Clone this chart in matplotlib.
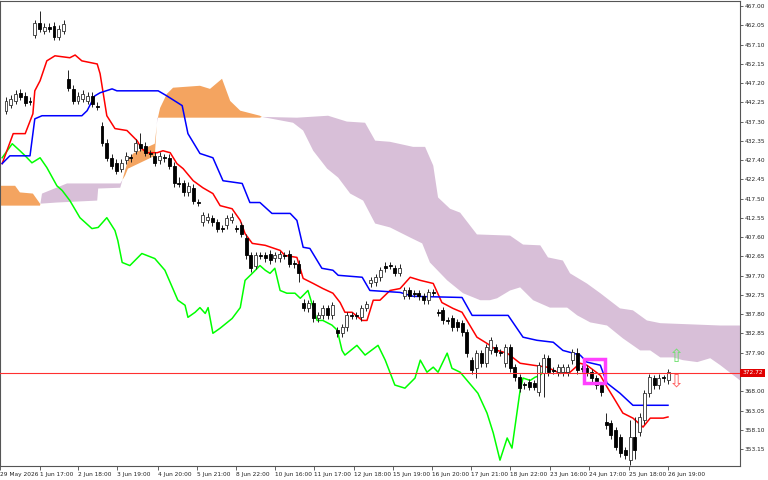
import matplotlib
matplotlib.use("Agg")
import matplotlib.pyplot as plt
import numpy as np

# candles (open, close), bar index 0..138
opens = [440.1, 441.6, 442.6, 444.7, 443.9, 442.6, 459.6, 462.6, 460.6, 461.6,
         461.9, 459.1, 460.6, 448.3, 445.7, 442.6, 443.2, 442.6, 443.9, 441.4,
         436.2, 431.9, 428.0, 426.7, 425.2, 427.3, 428.1, 429.8, 431.6, 431.1,
         429.1, 428.5, 427.3, 428.0, 428.0, 426.0, 421.4, 421.4, 419.1, 420.3,
         416.5, 411.4, 412.1, 412.4, 411.4, 409.8, 410.6, 412.1, 409.8, 410.6,
         407.5, 402.9, 400.3, 402.9, 402.9, 403.4, 402.2, 402.2, 402.9, 403.4,
         400.8, 400.8, 390.8, 389.3, 390.6, 386.7, 387.5, 389.3, 387.5, 383.7,
         382.9, 384.4, 387.5, 387.5, 387.0, 389.5, 395.7, 396.0, 397.3, 400.3,
         400.3, 399.6, 398.5, 392.6, 393.9, 393.2, 393.2, 392.4, 391.4, 393.4,
         388.3, 388.8, 386.2, 386.7, 385.7, 385.5, 383.2, 376.0, 373.9, 377.8,
         375.2, 378.5, 379.3, 378.0, 375.2, 379.3, 374.2, 371.6, 369.6, 370.3,
         370.1, 367.8, 372.6, 376.5, 373.4, 372.9, 372.9, 372.9, 376.0, 377.8,
         373.9, 373.9, 372.9, 371.4, 369.6, 360.1, 359.8, 358.0, 356.2, 352.9,
         350.3, 356.2, 357.5, 360.6, 367.5, 371.4, 369.6, 371.4, 370.8]
closes = [442.6, 443.2, 444.4, 443.7, 442.1, 442.4, 462.6, 461.1, 461.6, 461.1,
          459.1, 461.1, 462.4, 446.0, 442.6, 443.9, 444.4, 443.9, 441.9, 441.1,
          431.9, 428.0, 426.0, 424.7, 426.7, 428.5, 427.9, 431.9, 430.6, 429.3,
          429.0, 426.7, 428.5, 427.9, 426.0, 421.4, 421.3, 419.1, 420.8, 417.0,
          416.4, 413.2, 412.9, 411.4, 409.8, 409.7, 412.4, 412.9, 409.7, 408.5,
          402.9, 399.6, 402.9, 402.8, 402.2, 401.7, 402.9, 403.2, 402.8, 400.8,
          400.7, 398.5, 389.5, 390.6, 386.7, 387.5, 389.3, 387.5, 390.1, 382.9,
          384.4, 387.5, 387.4, 387.4, 389.3, 390.3, 396.5, 397.3, 399.1, 399.6,
          400.2, 398.5, 399.8, 393.9, 392.6, 393.1, 392.4, 391.4, 393.4, 393.3,
          388.2, 386.2, 386.1, 384.4, 384.4, 383.2, 377.8, 373.4, 377.8, 375.2,
          379.3, 381.1, 378.0, 377.9, 379.3, 373.9, 371.6, 368.8, 369.5, 369.1,
          369.1, 374.7, 376.5, 372.9, 373.3, 374.2, 374.2, 374.2, 378.0, 373.4,
          373.8, 372.9, 371.4, 369.6, 367.8, 359.3, 356.7, 353.7, 352.1, 351.6,
          356.2, 352.9, 361.4, 367.5, 371.6, 369.6, 371.4, 371.3, 372.9]
# long wicks that stand out
high_wicks = {7: 465.8, 12: 463.5, 13: 450.5, 28: 434.4, 36: 423.0, 112: 377.5,
              119: 379.2, 125: 362.5, 130: 360.5, 131: 361.5, 136: 372.5}
low_wicks = {61: 396.0, 98: 371.5, 130: 349.0, 131: 350.5, 112: 366.5}

# ichimoku lines as (bar, price) vertices
tenkan = [(-0.8, 426.5), (1.5, 434.2), (4.0, 434.2), (5.6, 439.3), (6.0, 445.2), (7.1, 447.8),
          (8.5, 452.9), (10.2, 454.2), (13.3, 453.7), (14.4, 454.4), (15.8, 452.9), (19.0, 452.1),
          (19.6, 449.6), (21.0, 438.8), (22.7, 435.5), (25.2, 435.0), (27.3, 432.4), (28.3, 430.3),
          (29.4, 429.3), (31.5, 429.3), (32.7, 429.8), (34.2, 429.3), (35.6, 426.5), (36.9, 425.2),
          (39.0, 422.1), (41.0, 420.3), (43.1, 418.8), (44.6, 415.7), (47.1, 414.9), (48.8, 411.9),
          (49.8, 408.5), (51.3, 406.0), (54.0, 405.5), (57.1, 404.2), (58.1, 402.9), (60.6, 402.4),
          (61.9, 397.0), (64.0, 395.7), (66.0, 394.4), (68.1, 393.2), (69.6, 390.8), (70.6, 388.3),
          (72.1, 388.3), (74.2, 386.2), (75.2, 386.2), (76.5, 391.4), (77.9, 391.4), (80.0, 393.9),
          (82.1, 394.4), (84.2, 397.3), (86.3, 396.5), (89.0, 395.7), (90.8, 390.8), (93.1, 389.3),
          (95.0, 388.3), (98.1, 381.9), (100.2, 380.3), (102.3, 378.5), (104.4, 377.8), (107.1, 375.2),
          (109.8, 374.7), (112.7, 374.2), (115.4, 372.6), (117.5, 372.9), (119.6, 375.2), (121.0, 374.7),
          (123.8, 372.1), (125.2, 369.1), (126.5, 366.5), (128.5, 362.4), (130.6, 361.1), (132.7, 358.8),
          (134.2, 361.1), (136.9, 361.1), (137.9, 361.4)]
kijun = [(-0.8, 426.5), (0.8, 428.5), (5.0, 428.5), (6.0, 438.0), (7.5, 438.8), (15.8, 438.8),
         (16.9, 440.1), (18.5, 443.9), (19.6, 444.7), (22.1, 445.7), (23.1, 445.2), (31.7, 445.2),
         (33.5, 443.9), (36.7, 441.4), (37.9, 434.2), (40.4, 429.1), (43.1, 428.0), (45.2, 422.1),
         (49.2, 421.4), (50.8, 416.5), (52.9, 416.5), (55.4, 413.7), (59.2, 413.7), (60.6, 411.9),
         (61.9, 405.0), (63.3, 404.7), (65.8, 399.6), (68.1, 399.1), (69.2, 397.8), (74.2, 397.3),
         (75.8, 393.9), (82.1, 393.4), (84.8, 392.4), (95.0, 392.1), (97.1, 387.5), (104.6, 387.5),
         (107.7, 381.9), (110.6, 381.1), (114.0, 380.6), (116.0, 378.5), (119.6, 377.3), (121.0, 375.5),
         (123.8, 374.7), (125.2, 370.1), (127.9, 367.5), (130.6, 364.4), (137.9, 364.4)]
chikou = [(-0.8, 428.0), (1.3, 431.6), (2.9, 429.8), (4.0, 428.5), (5.4, 426.7), (7.1, 428.0),
          (8.5, 425.5), (10.6, 420.8), (11.7, 419.6), (13.3, 417.0), (15.4, 412.6), (17.9, 409.8),
          (19.2, 410.1), (21.0, 412.6), (22.7, 409.3), (23.3, 406.7), (24.2, 401.1), (25.8, 400.3),
          (28.3, 403.4), (31.0, 402.1), (33.1, 399.1), (35.8, 391.4), (37.3, 390.1), (37.9, 387.0),
          (39.4, 388.3), (40.4, 389.5), (41.5, 388.0), (42.1, 389.5), (43.1, 382.9), (44.6, 384.2),
          (47.1, 386.7), (48.8, 389.5), (49.8, 396.5), (51.3, 398.3), (52.9, 400.3), (54.0, 399.1),
          (55.0, 398.3), (56.0, 399.6), (57.1, 393.9), (58.5, 393.2), (60.2, 393.2), (61.3, 391.9),
          (62.9, 393.9), (64.8, 386.2), (66.0, 386.2), (67.9, 385.0), (69.0, 383.7), (70.0, 378.5),
          (70.6, 377.3), (73.1, 379.8), (74.8, 377.3), (77.5, 379.8), (79.0, 376.0), (81.0, 369.6),
          (83.1, 368.8), (85.2, 371.4), (86.3, 376.0), (87.7, 372.9), (89.0, 374.2), (90.0, 372.9),
          (91.9, 377.8), (92.9, 373.9), (94.6, 372.9), (98.3, 367.5), (100.2, 362.4), (101.5, 357.3),
          (102.9, 350.3), (104.4, 356.0), (105.4, 353.4), (107.1, 368.3), (107.7, 371.4), (109.2, 370.8),
          (110.2, 371.6), (111.3, 372.1), (112.1, 373.4)]
span_a = [(-1.25, 420.8), (1.9, 420.8), (2.9, 419.1), (5.6, 418.8), (7.1, 416.2), (10.6, 416.5),
          (19.0, 417.0), (19.2, 420.1), (23.8, 420.3), (24.8, 424.7), (25.4, 427.3), (26.5, 429.1),
          (31.0, 431.6), (31.5, 437.5), (32.1, 440.8), (33.5, 444.4), (34.8, 446.0), (40.4, 446.5),
          (42.5, 445.7), (45.0, 448.3), (46.7, 442.6), (48.8, 440.1), (52.9, 438.8), (53.3, 438.5),
          (59.8, 437.0), (61.9, 435.0), (64.0, 429.8), (66.9, 425.2), (69.2, 422.9), (71.7, 418.8),
          (74.4, 417.0), (76.9, 411.1), (80.0, 410.1), (84.2, 407.5), (86.7, 406.0), (88.3, 401.1),
          (91.9, 396.5), (95.2, 393.2), (98.8, 391.4), (100.8, 391.4), (102.3, 391.9), (105.0, 393.9),
          (107.1, 394.7), (109.8, 391.4), (113.3, 389.5), (116.9, 389.5), (119.0, 387.5), (121.7, 385.7),
          (125.2, 384.9), (128.5, 381.6), (132.1, 378.5), (134.2, 378.5), (136.3, 376.7), (139.0, 376.7),
          (141.0, 376.0), (144.0, 375.5), (146.7, 376.5), (148.8, 374.7), (152.9, 370.8)]
span_b = [(-1.25, 415.7), (7.1, 415.7), (7.5, 418.8), (12.7, 421.4), (23.8, 421.4), (24.8, 423.4),
          (25.4, 425.2), (31.0, 428.5), (31.5, 438.3), (52.9, 438.3), (53.3, 438.5), (60.6, 438.3),
          (67.1, 438.8), (71.0, 437.3), (74.8, 437.0), (76.9, 432.4), (80.0, 432.1), (84.8, 430.8),
          (87.3, 430.8), (89.0, 426.0), (90.0, 417.8), (92.5, 414.9), (94.6, 413.9), (98.1, 408.3),
          (105.0, 408.0), (107.7, 405.7), (111.3, 405.5), (112.9, 402.4), (116.0, 401.6), (117.5, 398.3),
          (121.0, 395.7), (123.8, 393.2), (127.9, 389.3), (130.6, 388.8), (133.5, 386.2), (136.3, 385.5),
          (148.8, 384.9), (152.9, 384.9)]

price_ticks = [467.00, 462.05, 457.10, 452.15, 447.20, 442.25, 437.30, 432.35, 427.40,
               422.45, 417.50, 412.55, 407.60, 402.65, 397.70, 392.75, 387.80, 382.85,
               377.90, 368.00, 363.05, 358.10, 353.15]
time_labels = ["29 May 2026", "1 Jun 17:00", "2 Jun 18:00", "3 Jun 19:00", "4 Jun 20:00",
               "5 Jun 21:00", "8 Jun 22:00", "10 Jun 16:00", "11 Jun 17:00", "12 Jun 18:00",
               "15 Jun 19:00", "16 Jun 20:00", "17 Jun 21:00", "18 Jun 22:00", "23 Jun 16:00",
               "24 Jun 17:00", "25 Jun 18:00", "26 Jun 19:00"]
time_pos = [-1.25, 7.1, 15.1, 23.2, 31.6, 39.7, 47.9, 56.0, 64.2, 72.5, 80.6, 88.75,
            96.9, 105.0, 113.3, 121.5, 129.7, 137.8]
last_price = 372.72

fig = plt.figure(figsize=(7.68, 4.8), dpi=100)
ax = fig.add_axes([0.0, 14 / 480, 740 / 768, 1 - 15 / 480])

# cloud
grid = np.linspace(-1.25, 152.9, 3000)
a = np.interp(grid, *zip(*span_a))
b = np.interp(grid, *zip(*span_b))
ax.fill_between(grid, a, b, where=a >= b, color="#F4A460", lw=0, interpolate=True)
ax.fill_between(grid, a, b, where=a < b, color="#D8BFD8", lw=0, interpolate=True)

ax.plot(*zip(*chikou), color="#00FF00", lw=1.1)
ax.plot(*zip(*tenkan), color="#FF0000", lw=1.1)
ax.plot(*zip(*kijun), color="#0000FF", lw=1.1)

# candles
o = np.array(opens)
c = np.array(closes)
idx = np.arange(len(o))
top = np.maximum(o, c)
bot = np.minimum(o, c)
hi = top + 0.9
lo = bot - 0.9
for k, v in high_wicks.items():
    hi[k] = v
for k, v in low_wicks.items():
    lo[k] = v
ax.vlines(idx, lo, hi, color="#222222", lw=0.7, zorder=3)
bull = c >= o
h = np.maximum(top - bot, 0.25)
ax.bar(idx[bull], h[bull], bottom=bot[bull], width=0.62, color="white",
       edgecolor="#333333", lw=0.6, zorder=4)
ax.bar(idx[~bull], h[~bull], bottom=bot[~bull], width=0.62, color="black",
       edgecolor="black", lw=0.6, zorder=4)

# current price
ax.axhline(last_price, color="#FF3030", lw=0.8, zorder=6)
ax.text(1.003, last_price, f"{last_price:.2f}", transform=ax.get_yaxis_transform(),
        fontsize=4.2, color="white", va="center", ha="left",
        bbox=dict(boxstyle="square,pad=0.3", fc="#E00000", ec="none"))

# signal box and arrows
ax.add_patch(plt.Rectangle((120.3, 370.1), 4.4, 6.3, fill=False, ec="#FF40FF", lw=2.5, zorder=5))
ax.text(139.7, 376.7, "⇧", color="#70E070", fontsize=13, ha="center", va="center")
ax.text(139.7, 370.6, "⇩", color="#FF6060", fontsize=13, ha="center", va="center")

ax.set_xlim(-1.25, 152.9)
ax.set_ylim(348.8, 468.28)
ax.yaxis.tick_right()
ax.set_yticks(price_ticks)
ax.set_yticklabels([f"{p:.2f}" for p in price_ticks], fontsize=4.2)
ax.tick_params(axis="y", length=2.5, width=0.5, pad=1, colors="#222222")
ax.set_xticks(time_pos)
ax.set_xticklabels(time_labels, fontsize=4.2, ha="left")
ax.tick_params(axis="x", length=3, width=0.5, pad=1.5, colors="#222222")
for s in ax.spines.values():
    s.set_color("#555555")
    s.set_linewidth(0.8)

fig.savefig("out.png", dpi=100)
